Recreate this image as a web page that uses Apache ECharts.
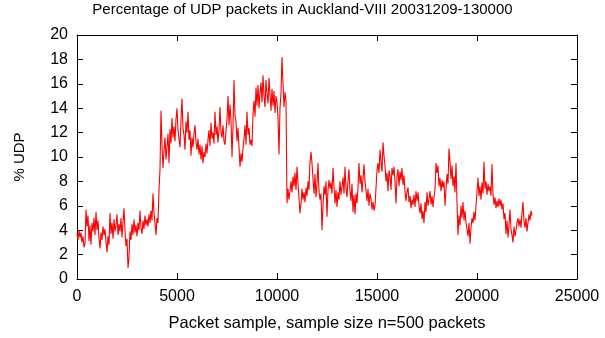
<!DOCTYPE html>
<html>
<head>
<meta charset="utf-8">
<script src="https://cdn.jsdelivr.net/npm/echarts@6/dist/echarts.min.js"></script>
<style>
html,body{margin:0;padding:0;background:#fff;}
#chart{width:605px;height:338px;}
</style>
</head>
<body>
<div id="chart"></div>
<script>
// Sample spacing between stored readings (packet samples)
const sampleStep = 50;
// % UDP readings, one per 50 packet samples, starting at sample 0
const udpPercent = [
  3.7, 3.2, 4.0, 3.4, 3.8, 3.0, 3.5, 2.6, 2.9, 5.7,
  4.3, 5.2, 3.1, 4.4, 2.8, 4.6, 3.9, 5.0, 3.6, 5.5,
  4.0, 4.8, 3.3, 2.5, 3.8, 3.2, 4.3, 3.6, 4.1, 3.0,
  2.2, 3.5, 2.8, 5.4, 3.7, 4.6, 3.3, 4.9, 3.9, 4.4,
  5.3, 3.6, 4.5, 3.9, 5.0, 3.4, 4.7, 5.8, 3.9, 2.7,
  3.3, 0.9, 1.8, 3.9, 3.2, 4.5, 3.6, 4.9, 3.8, 4.4,
  3.5, 4.6, 4.0, 5.6, 4.2, 3.7, 4.8, 4.1, 5.2, 4.4,
  4.9, 4.3, 5.3, 4.6, 5.6, 4.8, 7.0, 5.4, 4.6, 3.6,
  5.0, 4.6, 7.3, 9.0, 13.8, 11.0, 9.1, 10.5, 11.6, 9.8,
  10.8, 11.9, 9.5, 12.3, 11.1, 13.2, 11.6, 12.5, 11.3, 13.1,
  14.0, 12.2, 11.5, 10.8, 13.0, 14.8, 12.4, 11.8, 10.6, 12.9,
  12.0, 13.7, 11.4, 12.2, 10.1, 11.6, 10.8, 11.9, 12.6, 11.2,
  10.6, 11.5, 10.2, 11.0, 9.8, 10.9, 9.5, 10.4, 10.0, 11.1,
  10.3, 11.4, 12.2, 10.9, 12.8, 11.5, 12.0, 11.1, 13.7, 11.8,
  12.5, 11.2, 12.2, 14.1, 12.0, 11.6, 12.6, 11.3, 11.0, 12.1,
  13.1, 15.0, 12.6, 14.3, 13.0, 10.0, 12.5, 16.3, 13.4, 12.9,
  11.3, 12.4, 10.8, 9.2, 10.3, 9.6, 10.7, 11.5, 12.6, 11.0,
  13.7, 11.8, 12.4, 11.0, 11.4, 10.9, 13.5, 14.6, 13.3, 15.7,
  14.2, 15.9, 14.0, 15.3, 16.1, 14.5, 16.7, 15.0, 14.1, 16.3,
  15.2, 14.4, 16.5, 15.1, 13.8, 15.6, 14.2, 15.4, 13.6, 15.0,
  14.5, 13.2, 10.2, 14.0, 15.2, 18.2, 16.0, 14.1, 15.3, 14.6,
  6.2, 7.4, 6.5, 7.2, 8.0, 7.1, 8.4, 7.6, 8.7, 7.3,
  9.2, 7.8, 6.6, 5.4, 6.2, 7.4, 6.5, 7.1, 6.3, 7.5,
  6.8, 8.0, 7.3, 9.6, 10.4, 9.5, 8.2, 7.0, 8.6, 6.7,
  7.8, 9.5, 7.2, 6.5, 7.0, 4.0, 6.0, 7.6, 6.9, 8.0,
  5.1, 7.3, 8.1, 7.4, 7.9, 7.0, 9.1, 7.6, 6.2, 7.3,
  5.9, 7.1, 6.5, 8.0, 6.9, 7.6, 8.3, 7.0, 9.2, 7.4,
  6.7, 8.1, 9.0, 7.2, 6.4, 7.8, 5.5, 6.9, 5.3, 7.0,
  6.2, 7.5, 9.5, 7.8, 8.5, 7.1, 8.2, 9.4, 8.0, 7.2,
  6.4, 7.4, 6.0, 7.0, 6.6, 5.7, 6.3, 5.6, 6.0, 5.9,
  8.9, 9.5, 8.7, 10.6, 9.6, 8.8, 11.2, 10.1, 9.3, 8.0,
  8.7, 7.2, 8.9, 8.4, 7.3, 9.1, 8.5, 9.2, 8.0, 6.2,
  8.4, 9.0, 7.6, 8.8, 8.1, 9.1, 7.7, 8.5, 7.2, 6.4,
  7.1, 7.5, 6.3, 6.8, 5.8, 6.5, 6.1, 6.9, 5.9, 7.2,
  6.4, 7.1, 6.0, 5.4, 6.2, 4.9, 5.6, 4.6, 6.3, 5.5,
  7.1, 6.0, 6.6, 7.2, 6.1, 6.8, 5.9, 6.7, 7.3, 9.5,
  8.7, 9.3, 7.6, 8.3, 7.2, 8.1, 7.5, 8.0, 6.0, 7.4,
  8.6, 7.8, 10.7, 9.6, 8.2, 9.3, 7.6, 8.4, 7.1, 9.5,
  6.3, 3.6, 5.2, 4.4, 6.0, 5.0, 6.3, 4.8, 5.6, 4.6,
  4.1, 3.5, 4.6, 2.9, 4.2, 5.0, 4.6, 5.5, 4.8, 6.0,
  6.0, 8.3, 6.8, 7.6, 6.5, 7.9, 7.0, 9.6, 7.4, 8.0,
  6.9, 7.8, 7.2, 7.6, 6.8, 9.4, 7.0, 6.1, 6.7, 5.8,
  6.4, 5.9, 6.6, 6.0, 6.5, 5.7, 6.2, 4.9, 5.4, 3.7,
  4.8, 3.4, 4.4, 5.7, 4.1, 3.6, 3.0, 4.3, 3.5, 4.0,
  4.6, 5.0, 4.3, 4.9, 4.2, 5.4, 6.3, 4.7, 4.2, 5.0,
  3.9, 4.6, 5.3, 4.8, 5.6, 5.2
];
const xTicks = [0, 5000, 10000, 15000, 20000, 25000];
const yTicks = [0, 2, 4, 6, 8, 10, 12, 14, 16, 18, 20];
const titleText = 'Percentage of UDP packets in Auckland-VIII 20031209-130000';
const xName = 'Packet sample, sample size n=500 packets';
const yName = '% UDP';

const points = udpPercent.map((v, i) => [i * sampleStep, v]);
const font = 'Liberation Sans, Arial, sans-serif';
const axisLine = { show: true, onZero: false, lineStyle: { color: '#000', width: 1 } };
const tick = { show: true, inside: true, length: 6, lineStyle: { color: '#000', width: 1 } };

const chart = echarts.init(document.getElementById('chart'), null, { renderer: 'canvas' });
chart.setOption({
  animation: false,
  backgroundColor: '#fff',
  title: {
    text: titleText, left: 'center', top: -3,
    textStyle: { fontFamily: font, fontSize: 15, fontWeight: 'normal', color: '#000' }
  },
  grid: { left: 77, right: 28, top: 35, bottom: 59, containLabel: false },
  xAxis: [
    {
      type: 'value', min: xTicks[0], max: xTicks[xTicks.length - 1], interval: 5000,
      position: 'bottom', axisLine, axisTick: tick, splitLine: { show: false },
      axisLabel: { color: '#000', fontFamily: font, fontSize: 16, margin: 10, formatter: v => String(v) },
      name: xName, nameLocation: 'middle', nameGap: 36,
      nameTextStyle: { color: '#000', fontFamily: font, fontSize: 16.5 }
    },
    {
      type: 'value', min: xTicks[0], max: xTicks[xTicks.length - 1], interval: 5000,
      position: 'top', axisLine, axisTick: tick, splitLine: { show: false },
      axisLabel: { show: false }
    }
  ],
  yAxis: [
    {
      type: 'value', min: yTicks[0], max: yTicks[yTicks.length - 1], interval: 2,
      position: 'left', axisLine, axisTick: tick, splitLine: { show: false },
      axisLabel: { color: '#000', fontFamily: font, fontSize: 16, margin: 9, formatter: v => String(v) },
      name: yName, nameLocation: 'middle', nameGap: 50, nameRotate: 90,
      nameTextStyle: { color: '#000', fontFamily: font, fontSize: 15 }
    },
    {
      type: 'value', min: yTicks[0], max: yTicks[yTicks.length - 1], interval: 2,
      position: 'right', axisLine, axisTick: tick, splitLine: { show: false },
      axisLabel: { show: false }
    }
  ],
  series: [{
    type: 'line', data: points, showSymbol: false, symbol: 'none',
    lineStyle: { color: '#ff0000', width: 1.1 }, xAxisIndex: 0, yAxisIndex: 0
  }]
});
</script>
</body>
</html>
